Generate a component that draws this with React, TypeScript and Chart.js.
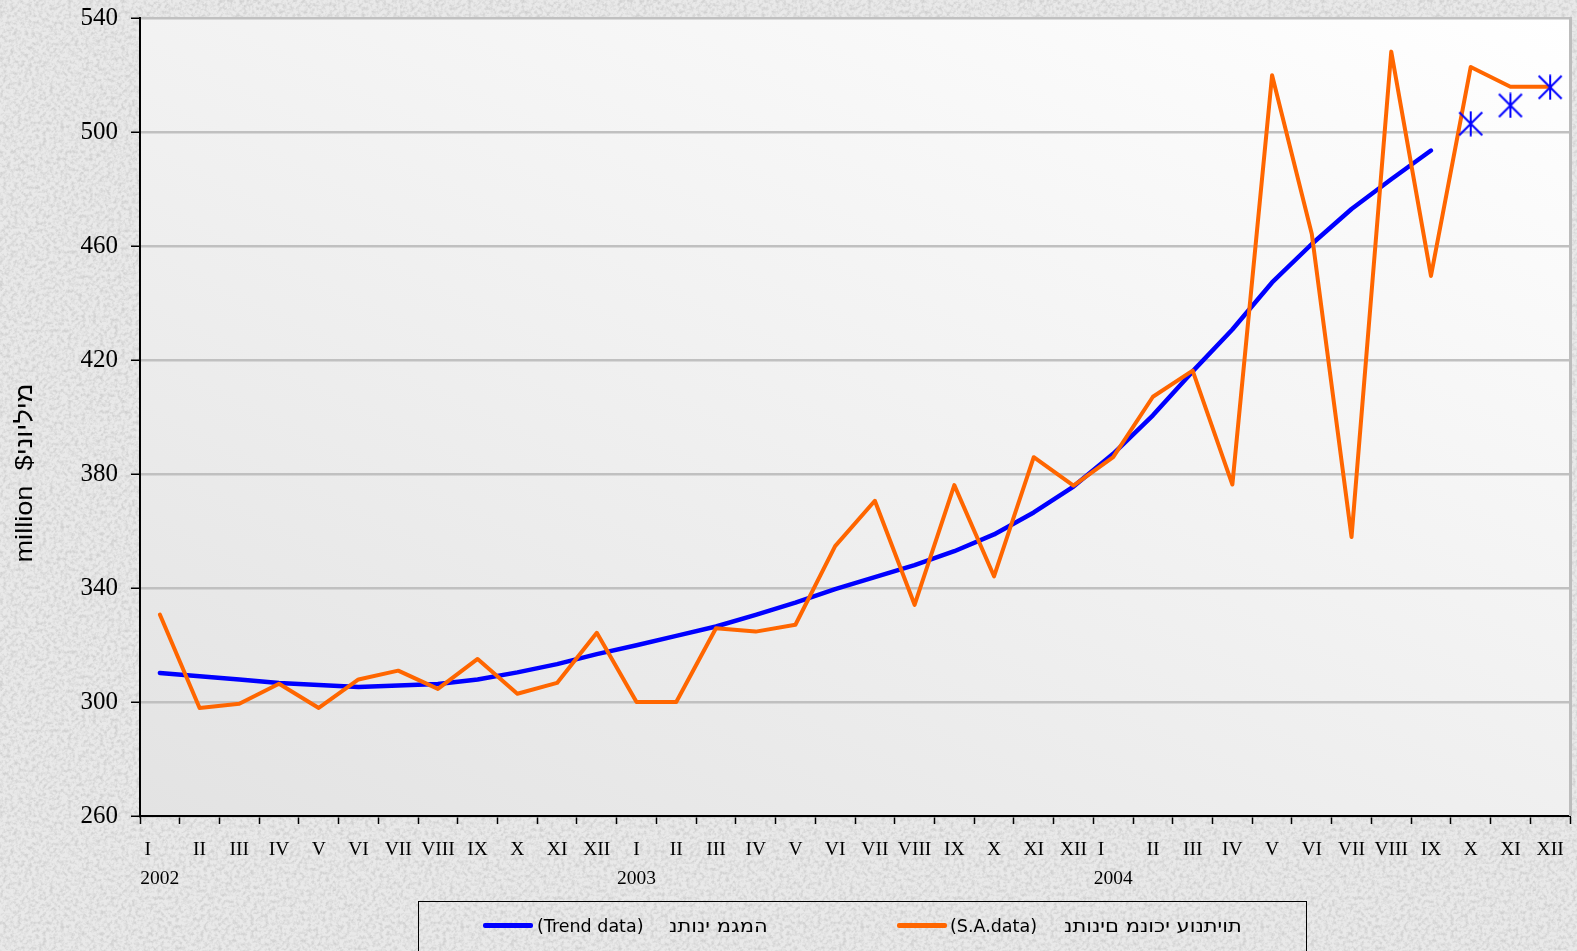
import React, { useEffect, useRef } from 'react';
import { Chart, registerables } from 'chart.js';

Chart.register(...registerables);

// ---- data ----
const months = ['I', 'II', 'III', 'IV', 'V', 'VI', 'VII', 'VIII', 'IX', 'X', 'XI', 'XII'];
const years = ['2002', '2003', '2004'];

const trendData = [
  310.2, 309.0, 307.9, 306.7, 306.0, 305.3, 305.8, 306.3, 307.9, 310.4, 313.3, 316.8,
  319.9, 323.2, 326.5, 330.6, 334.9, 339.6, 343.8, 348.0, 352.9, 358.8, 366.5, 375.6,
  387.1, 400.6, 416.0, 430.7, 447.2, 460.7, 473.0, 483.4, 493.5, null, null, null,
];

const saData = [
  330.7, 297.9, 299.4, 306.4, 297.9, 307.9, 311.0, 304.6, 315.1, 302.9, 306.7, 324.3,
  300.0, 300.0, 325.9, 324.7, 327.1, 354.7, 370.6, 334.1, 376.1, 344.1, 385.9, 375.9,
  385.9, 407.1, 416.3, 376.3, 519.9, 464.2, 357.9, 528.2, 449.5, 522.8, 515.9, 515.9,
];

const forecastData = [
  null, null, null, null, null, null, null, null, null, null, null, null,
  null, null, null, null, null, null, null, null, null, null, null, null,
  null, null, null, null, null, null, null, null, null, 502.9, 509.3, 515.7,
];

const yMin = 260;
const yMax = 540;
const yStep = 40;

const trendLabel = '(Trend data)';
const trendLabelHe = 'נתוני מגמה';
const saLabel = '(S.A.data)';
const saLabelHe = 'נתונים מנוכי עונתיות';
const yTitle = 'million  $מיליוני';

// first-month labels of 2002 and 2004 sit slightly left of their category centre
const firstMonthPad = ['\u00a0\u00a0\u00a0\u00a0\u00a0', '', '\u00a0\u00a0\u00a0\u00a0\u00a0'];

const texture =
  "url(\"data:image/svg+xml;utf8,<svg xmlns='http://www.w3.org/2000/svg' width='400' height='400'>" +
  "<filter id='n'><feTurbulence type='fractalNoise' baseFrequency='0.28' numOctaves='3' stitchTiles='stitch'/>" +
  "<feColorMatrix values='0 0 0 0 0.64  0 0 0 0 0.64  0 0 0 0 0.64  2.6 0 0 0 -1.05'/></filter>" +
  "<rect width='100%' height='100%' fill='%23e9e9e9'/>" +
  "<rect width='100%' height='100%' filter='url(%23n)'/></svg>\")";

export default function App() {
  const ref = useRef<HTMLCanvasElement>(null);

  useEffect(() => {
    document.body.style.margin = '0';
    const canvas = ref.current;
    if (!canvas) return;

    const labels: (string | string[])[] = [];
    years.forEach((y, yi) => {
      months.forEach((m, mi) => {
        if (mi === 0) labels.push([m + firstMonthPad[yi], y]);
        else labels.push(m);
      });
    });

    // star marker (vertical bar + X)
    const star = document.createElement('canvas');
    star.width = 26;
    star.height = 26;
    const sc = star.getContext('2d')!;
    sc.strokeStyle = '#0000ff';
    sc.lineWidth = 2;
    sc.beginPath();
    sc.moveTo(13, 0.5);
    sc.lineTo(13, 25.5);
    sc.moveTo(1.5, 1.5);
    sc.lineTo(24.5, 24.5);
    sc.moveTo(24.5, 1.5);
    sc.lineTo(1.5, 24.5);
    sc.stroke();

    const plotBg = {
      id: 'plotBg',
      beforeDraw(chart: any) {
        const { ctx, chartArea: a } = chart;
        const w = a.right - a.left;
        const h = a.bottom - a.top;
        const dx = 0.425;
        const dy = -0.905;
        const L = w * dx + h * -dy;
        const g = ctx.createLinearGradient(a.left, a.bottom, a.left + dx * L, a.bottom + dy * L);
        g.addColorStop(0, '#e3e3e3');
        g.addColorStop(1, '#ffffff');
        ctx.save();
        ctx.fillStyle = g;
        ctx.fillRect(a.left, a.top, w, h);
        ctx.restore();
      },
      afterDraw(chart: any) {
        const { ctx, chartArea: a } = chart;
        ctx.save();
        ctx.strokeStyle = '#bdbdbd';
        ctx.lineWidth = 3;
        ctx.beginPath();
        ctx.moveTo(a.right + 0.5, a.top - 1);
        ctx.lineTo(a.right + 0.5, a.bottom);
        ctx.stroke();
        ctx.restore();
        // y title, reading bottom to top
        ctx.save();
        ctx.font = '24px "Liberation Sans", "DejaVu Sans", sans-serif';
        ctx.textAlign = 'center';
        ctx.textBaseline = 'alphabetic';
        ctx.fillStyle = '#000';
        const tw = ctx.measureText(yTitle).width;
        ctx.translate(32, 473);
        ctx.rotate(-Math.PI / 2);
        ctx.scale(179 / tw, 1);
        ctx.fillText(yTitle, 0, 0);
        ctx.restore();
      },
    };

    const chart = new Chart(canvas, {
      type: 'line',
      data: {
        labels,
        datasets: [
          {
            label: 'forecast',
            data: forecastData,
            showLine: false,
            pointStyle: star as any,
            pointRadius: 12,
            borderColor: '#0000ff',
            backgroundColor: '#0000ff',
            order: 0,
          },
          {
            label: saLabel,
            data: saData,
            borderColor: '#ff6600',
            backgroundColor: '#ff6600',
            borderWidth: 4,
            pointRadius: 0,
            tension: 0,
            borderCapStyle: 'round',
            borderJoinStyle: 'round',
            order: 1,
          },
          {
            label: trendLabel,
            data: trendData,
            borderColor: '#0000ff',
            backgroundColor: '#0000ff',
            borderWidth: 4.5,
            pointRadius: 0,
            tension: 0,
            borderCapStyle: 'round',
            borderJoinStyle: 'round',
            spanGaps: false,
            order: 2,
          },
        ],
      },
      options: {
        responsive: false,
        animation: false,
        devicePixelRatio: 1,
        layout: { autoPadding: false, padding: { left: 0, top: 18, right: 7, bottom: 0 } },
        plugins: {
          legend: { display: false },
          tooltip: { enabled: false },
        },
        scales: {
          x: {
            type: 'category',
            offset: true,
            grid: {
              display: true,
              offset: true,
              drawOnChartArea: false,
              drawTicks: true,
              tickLength: 8,
              tickColor: '#000',
              tickWidth: 1.5,
            },
            border: { display: true, color: '#000', width: 2 },
            ticks: {
              autoSkip: false,
              maxRotation: 0,
              minRotation: 0,
              padding: 12,
              color: '#000',
              font: { family: '"Liberation Serif", "Times New Roman", serif', size: 19.5, lineHeight: 1.47 },
            },
            afterFit: (s: any) => {
              s.height = 951 - 816;
              s.paddingLeft = 0;
              s.paddingRight = 0;
            },
          },
          y: {
            min: yMin,
            max: yMax,
            grid: {
              color: '#c0c0c0',
              lineWidth: 2.5,
              tickColor: '#000',
              tickLength: 9,
              tickWidth: 1.5,
            },
            border: { display: true, color: '#000', width: 2 },
            ticks: {
              stepSize: yStep,
              padding: 13,
              color: '#000',
              font: { family: '"Liberation Serif", "Times New Roman", serif', size: 25 },
            },
            afterFit: (s: any) => {
              s.width = 140;
              s.paddingTop = 0;
              s.paddingBottom = 0;
            },
          },
        },
      },
      plugins: [plotBg],
    });

    return () => chart.destroy();
  }, []);

  const legendText: React.CSSProperties = {
    position: 'absolute',
    fontFamily: '"DejaVu Sans", sans-serif',
    fontSize: '17.5px',
    lineHeight: '20px',
    top: 916,
    color: '#000',
    whiteSpace: 'nowrap',
  };
  const hebrewText: React.CSSProperties = {
    ...legendText,
    direction: 'ltr',
    unicodeBidi: 'bidi-override',
    transform: 'scaleX(1.2)',
    transformOrigin: 'left center',
  };

  return (
    <div
      style={{
        position: 'fixed',
        left: 0,
        top: 0,
        width: 1577,
        height: 951,
        overflow: 'hidden',
        backgroundColor: '#e2e2e2',
        backgroundImage: texture,
      }}
    >
      <canvas ref={ref} width={1577} height={951} style={{ position: 'absolute', left: 0, top: 0 }} />
      <div
        style={{
          position: 'absolute',
          left: 418,
          top: 901,
          width: 889,
          height: 80,
          border: '1.5px solid #000',
          boxSizing: 'border-box',
        }}
      />
      <div style={{ position: 'absolute', left: 483, top: 923, width: 50, height: 4.5, background: '#0000ff', borderRadius: 2 }} />
      <span style={{ ...legendText, left: 537 }}>{trendLabel}</span>
      <span style={{ ...hebrewText, left: 669 }}>{trendLabelHe}</span>
      <div style={{ position: 'absolute', left: 897, top: 923, width: 50, height: 4.5, background: '#ff6600', borderRadius: 2 }} />
      <span style={{ ...legendText, left: 950 }}>{saLabel}</span>
      <span style={{ ...hebrewText, left: 1064 }}>{saLabelHe}</span>
    </div>
  );
}
